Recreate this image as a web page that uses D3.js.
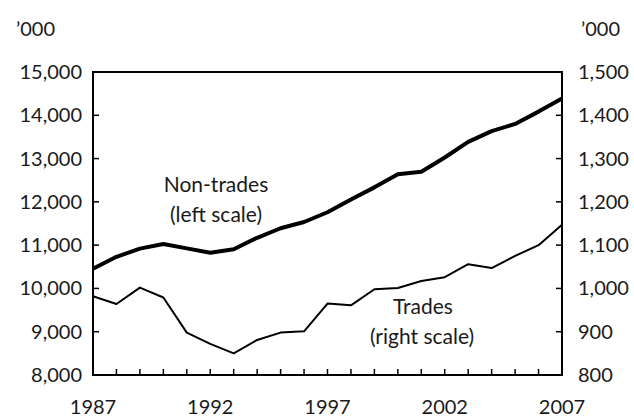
<!DOCTYPE html>
<html>
<head>
<meta charset="utf-8">
<script src="https://cdn.jsdelivr.net/npm/d3@7"></script>
<style>
  html, body { margin: 0; padding: 0; background: #fff; }
  svg { display: block; }
  text { font-family: Lato, "Liberation Sans", sans-serif; fill: #1a1a1a; }
</style>
</head>
<body>
<div id="chart"></div>
<script>
const years = d3.range(1987, 2008)
const nonTrades = [10455, 10730, 10920, 11025, 10925, 10825, 10905, 11170, 11390, 11535,
  11760, 12055, 12335, 12640, 12695, 13025, 13385, 13635, 13800, 14085, 14390]
const trades = [982, 964, 1002, 979, 898, 872, 850, 881, 898, 901,
  965, 961, 998, 1001, 1017, 1026, 1056, 1047, 1075, 1100, 1147]
const leftTicks = [8000, 9000, 10000, 11000, 12000, 13000, 14000, 15000]
const rightTicks = [800, 900, 1000, 1100, 1200, 1300, 1400, 1500]
const yearLabels = [1987, 1992, 1997, 2002, 2007]

const W = 634, H = 418
const m = { left: 93, right: 562, top: 72, bottom: 375 }
const fs = 20

const svg = d3.select("#chart").append("svg")
  .attr("width", W)
  .attr("height", H)

const x = d3.scaleLinear().domain([1987, 2007]).range([m.left, m.right])
const yL = d3.scaleLinear().domain([8000, 15000]).range([m.bottom, m.top])
const yR = d3.scaleLinear().domain([800, 1500]).range([m.bottom, m.top])

// box
svg.append("rect")
  .attr("x", m.left)
  .attr("y", m.top)
  .attr("width", m.right - m.left)
  .attr("height", m.bottom - m.top)
  .attr("fill", "none")
  .attr("stroke", "#000")
  .attr("stroke-width", 2)

// left ticks (inside)
svg.selectAll(".lt").data(leftTicks).enter().append("line")
  .attr("x1", m.left).attr("x2", m.left + 6)
  .attr("y1", d => yL(d)).attr("y2", d => yL(d))
  .attr("stroke", "#000").attr("stroke-width", 1.5)

svg.selectAll(".ll").data(leftTicks).enter().append("text")
  .attr("x", 82)
  .attr("y", d => yL(d) + 7)
  .attr("text-anchor", "end")
  .attr("font-size", fs)
  .text(d => d3.format(",")(d))

// right ticks (inside)
svg.selectAll(".rt").data(rightTicks).enter().append("line")
  .attr("x1", m.right - 6).attr("x2", m.right)
  .attr("y1", d => yR(d)).attr("y2", d => yR(d))
  .attr("stroke", "#000").attr("stroke-width", 1.5)

svg.selectAll(".rl").data(rightTicks).enter().append("text")
  .attr("x", 578)
  .attr("y", d => yR(d) + 7)
  .attr("font-size", fs)
  .text(d => d3.format(",")(d))

// year ticks (pointing up)
svg.selectAll(".xt").data(years.slice(1, -1)).enter().append("line")
  .attr("x1", d => x(d)).attr("x2", d => x(d))
  .attr("y1", m.bottom).attr("y2", m.bottom - 6)
  .attr("stroke", "#000").attr("stroke-width", 1.5)

svg.selectAll(".xl").data(yearLabels).enter().append("text")
  .attr("x", d => x(d))
  .attr("y", 414)
  .attr("text-anchor", "middle")
  .attr("font-size", fs)
  .text(d => d)

// units
svg.append("text").attr("x", 16).attr("y", 36).attr("font-size", fs).text("\u2019000")
svg.append("text").attr("x", 620).attr("y", 36).attr("text-anchor", "end").attr("font-size", fs).text("\u2019000")

// lines
const lineL = d3.line().x((d, i) => x(years[i])).y(d => yL(d))
const lineR = d3.line().x((d, i) => x(years[i])).y(d => yR(d))

svg.append("path")
  .datum(nonTrades)
  .attr("d", lineL)
  .attr("fill", "none")
  .attr("stroke", "#000")
  .attr("stroke-width", 4)
  .attr("stroke-linejoin", "round")

svg.append("path")
  .datum(trades)
  .attr("d", lineR)
  .attr("fill", "none")
  .attr("stroke", "#000")
  .attr("stroke-width", 2)
  .attr("stroke-linejoin", "round")

// annotations
const notes = [
  { x: 216, y: 192, t: "Non-trades" },
  { x: 216, y: 222, t: "(left scale)" },
  { x: 423, y: 314, t: "Trades" },
  { x: 422, y: 344, t: "(right scale)" }
]
svg.selectAll(".note").data(notes).enter().append("text")
  .attr("x", d => d.x)
  .attr("y", d => d.y)
  .attr("text-anchor", "middle")
  .attr("font-size", 21)
  .text(d => d.t)
</script>
</body>
</html>
